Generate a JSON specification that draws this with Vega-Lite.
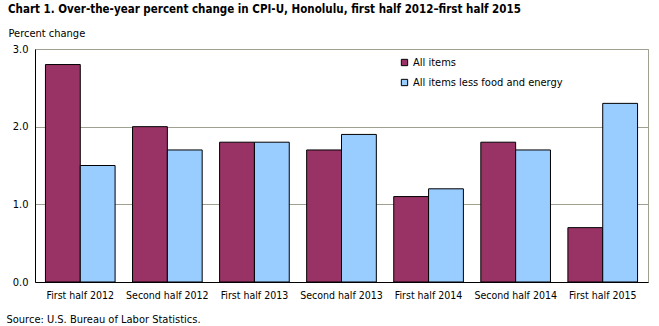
{
  "$schema": "https://vega.github.io/schema/vega-lite/v6.json",
  "width": 613,
  "height": 233,
  "autosize": "none",
  "padding": {"left": 35, "top": 49, "right": 11, "bottom": 44},
  "background": "white",
  "title": {
    "text": "Chart 1. Over-the-year percent change in CPI-U, Honolulu, first half 2012–first  half 2015",
    "anchor": "start",
    "frame": "group",
    "dx": -27,
    "offset": 12,
    "font": "DejaVu Sans Condensed",
    "fontSize": 11.5,
    "fontWeight": "bold",
    "color": "black"
  },
  "config": {
    "view": {"stroke": "#a0a090", "strokeWidth": 1},
    "font": "DejaVu Sans Condensed",
    "axis": {"labelFont": "DejaVu Sans Condensed", "titleFont": "DejaVu Sans Condensed"},
    "legend": {"labelFont": "DejaVu Sans Condensed"}
  },
  "data": {
    "values": [
      {"period": "First half 2012", "series": "All items", "value": 2.8},
      {"period": "First half 2012", "series": "All items less food and energy", "value": 1.5},
      {"period": "Second half 2012", "series": "All items", "value": 2.0},
      {"period": "Second half 2012", "series": "All items less food and energy", "value": 1.7},
      {"period": "First half 2013", "series": "All items", "value": 1.8},
      {"period": "First half 2013", "series": "All items less food and energy", "value": 1.8},
      {"period": "Second half 2013", "series": "All items", "value": 1.7},
      {"period": "Second half 2013", "series": "All items less food and energy", "value": 1.9},
      {"period": "First half 2014", "series": "All items", "value": 1.1},
      {"period": "First half 2014", "series": "All items less food and energy", "value": 1.2},
      {"period": "Second half 2014", "series": "All items", "value": 1.8},
      {"period": "Second half 2014", "series": "All items less food and energy", "value": 1.7},
      {"period": "First half 2015", "series": "All items", "value": 0.7},
      {"period": "First half 2015", "series": "All items less food and energy", "value": 2.3}
    ]
  },
  "mark": {"type": "bar", "stroke": "black", "strokeWidth": 1},
  "encoding": {
    "x": {
      "field": "period",
      "type": "nominal",
      "sort": null,
      "scale": {"paddingInner": 0.2, "paddingOuter": 0.12},
      "axis": {
        "labelAngle": 0,
        "labelFontSize": 10.5,
        "labelColor": "black",
        "labelPadding": 8,
        "ticks": false,
        "domainColor": "black",
        "title": "Source: U.S. Bureau of Labor Statistics.",
        "titleFontSize": 11,
        "titleFontWeight": "normal",
        "titleColor": "black",
        "titleAnchor": "start",
        "titleAlign": "left",
        "titleBaseline": "middle",
        "titleX": -29,
        "titleY": 37
      }
    },
    "xOffset": {"field": "series", "type": "nominal"},
    "y": {
      "field": "value",
      "type": "quantitative",
      "scale": {"domain": [0, 3]},
      "axis": {
        "values": [0, 1, 2, 3],
        "format": ".1f",
        "labelFontSize": 11,
        "labelColor": "black",
        "labelPadding": 7,
        "ticks": false,
        "domainColor": "black",
        "gridColor": "#a0a090",
        "title": "Percent change",
        "titleAngle": 0,
        "titleAlign": "left",
        "titleBaseline": "middle",
        "titleX": -27,
        "titleY": -16,
        "titleFontSize": 11,
        "titleFontWeight": "normal",
        "titleColor": "black"
      }
    },
    "color": {
      "field": "series",
      "type": "nominal",
      "scale": {"domain": ["All items", "All items less food and energy"], "range": ["#993366", "#99ccff"]},
      "legend": {
        "title": null,
        "orient": "none",
        "legendX": 364,
        "legendY": 8,
        "symbolType": "square",
        "symbolSize": 40,
        "symbolStrokeColor": "black",
        "symbolStrokeWidth": 1,
        "labelFontSize": 11,
        "labelColor": "black",
        "labelLimit": 300,
        "rowPadding": 8,
        "labelOffset": 3
      }
    }
  }
}
